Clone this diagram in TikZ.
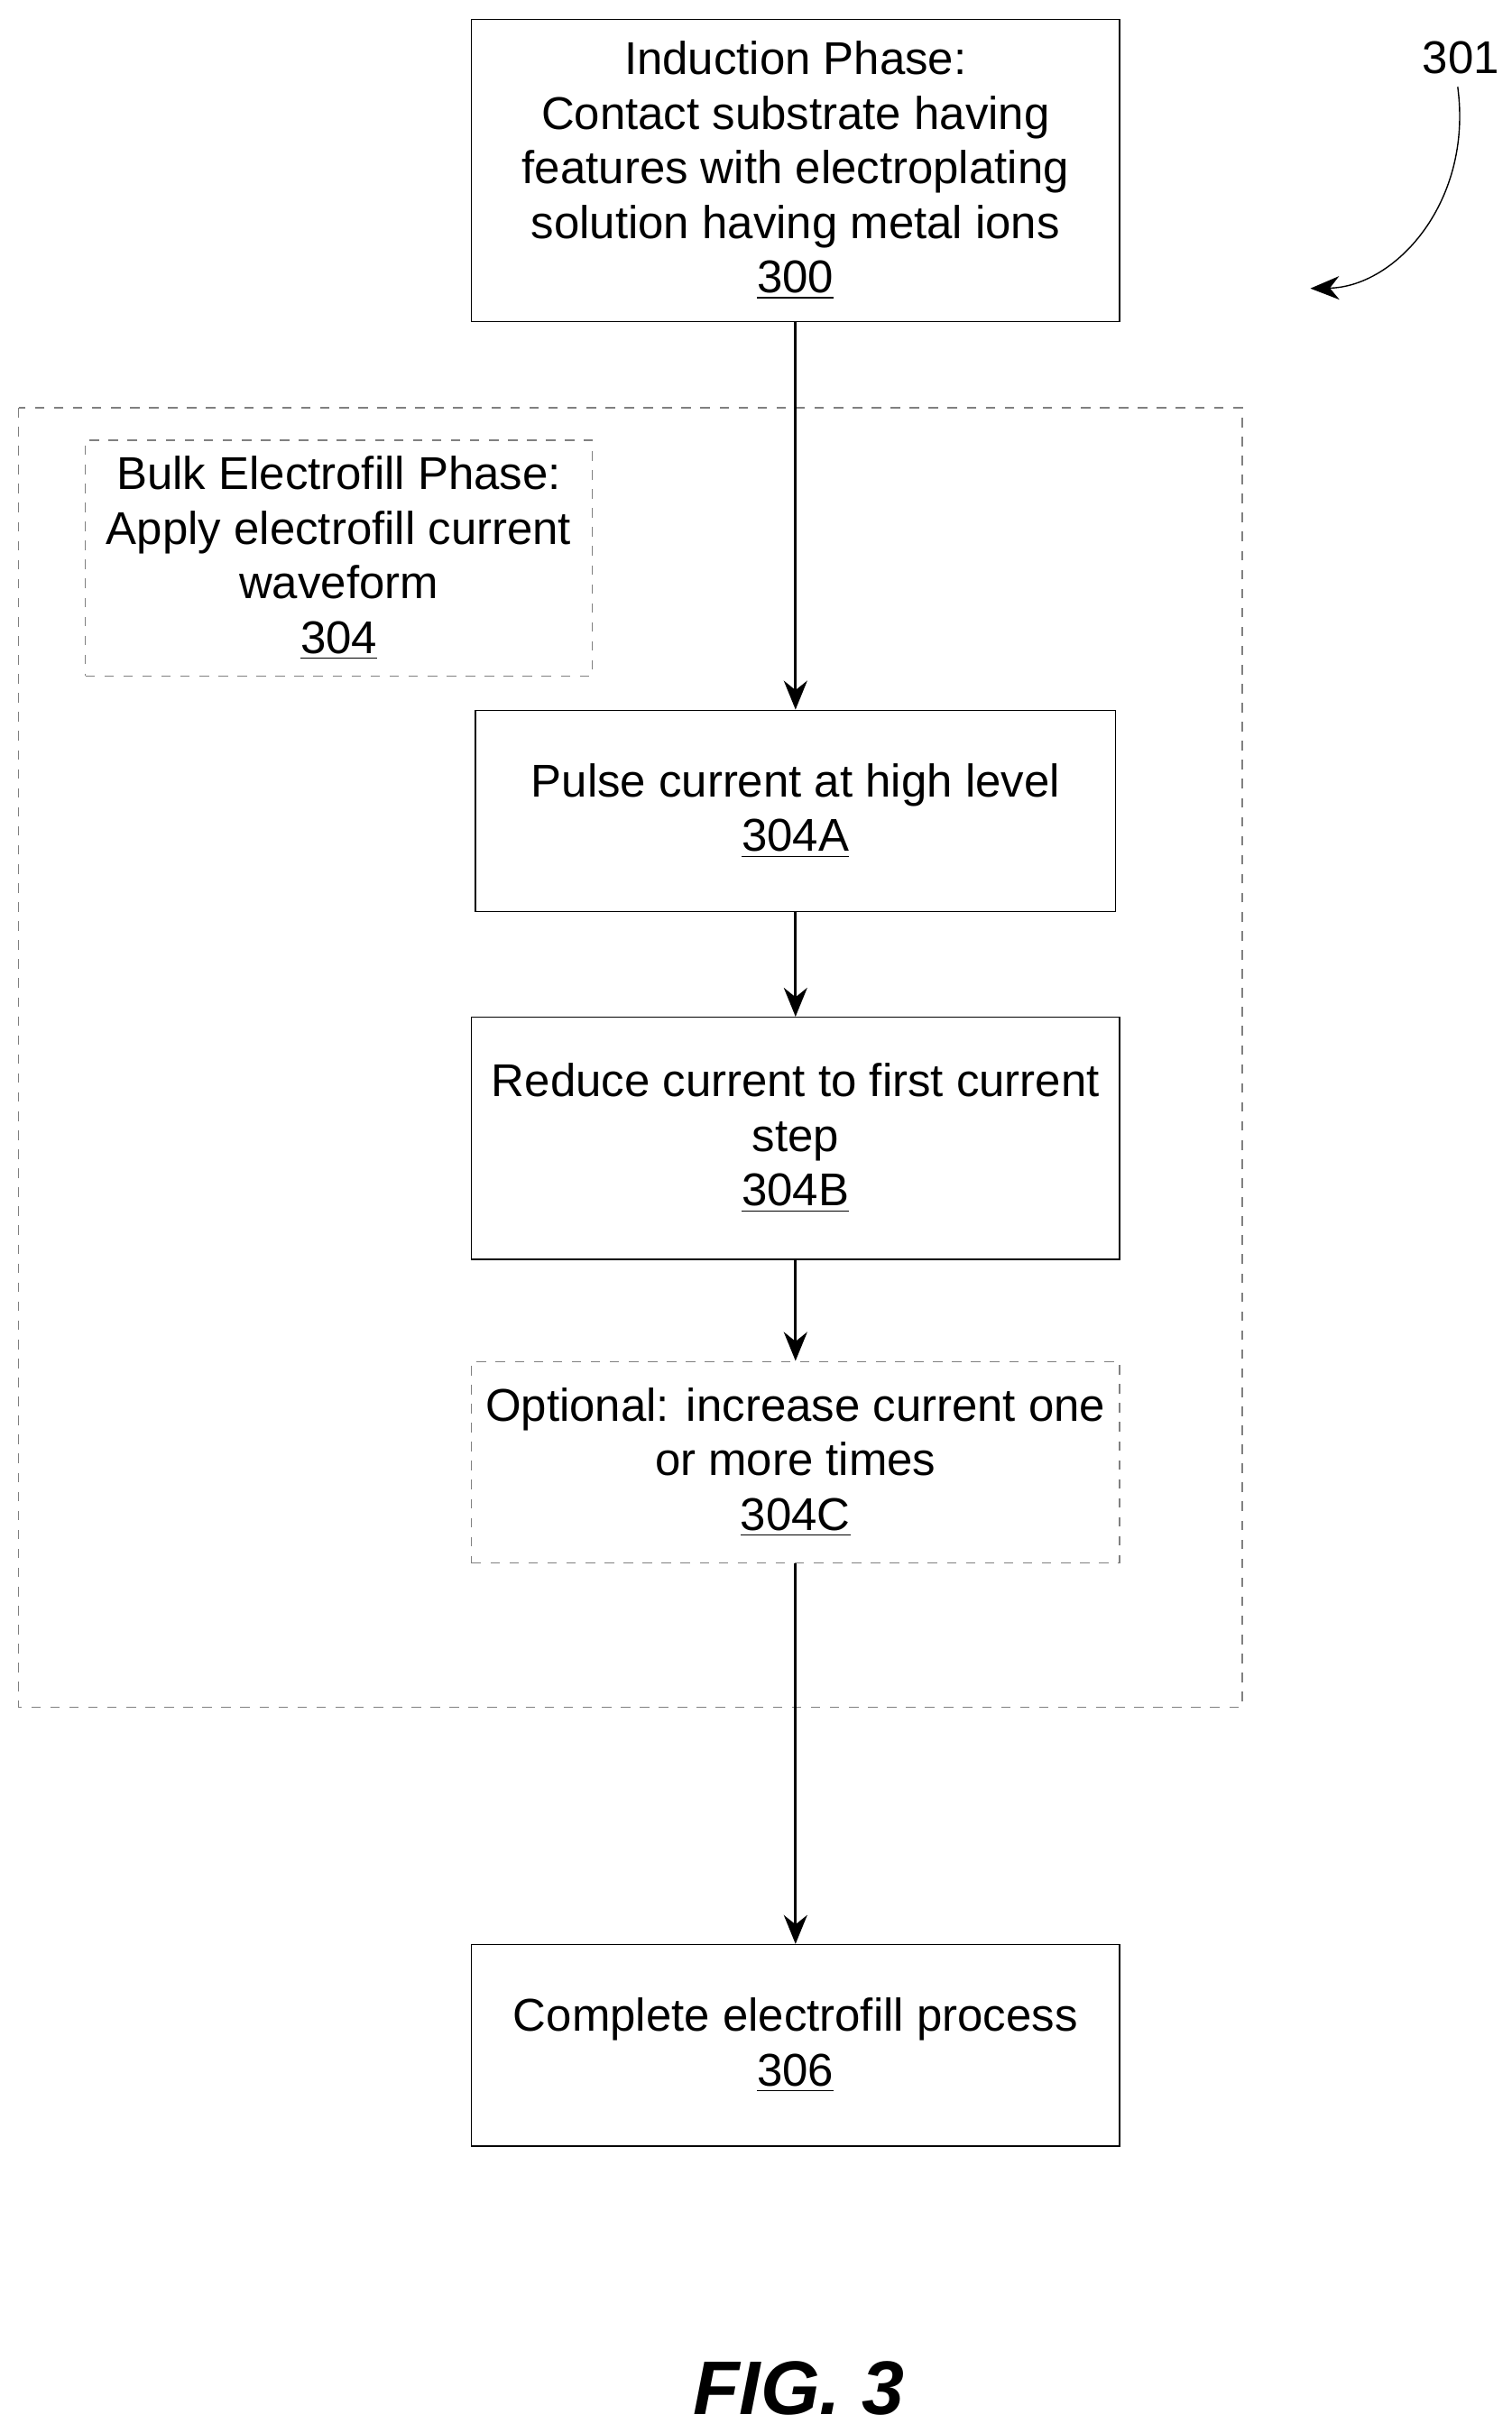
\documentclass[tikz,border=0pt]{standalone}
\usepackage{fontspec}
\setmainfont{Liberation Sans}
\usetikzlibrary{arrows.meta}

\tikzstyle{stage} = [draw, rectangle, align=center, inner sep=0pt, font=\fontsize{14.5}{17.2}\selectfont]
\tikzstyle{opt}  = [stage, dashed, draw=gray]
\tikzstyle{flow} = [-{Stealth[length=3.2mm,width=2.6mm]}, thick]

\begin{document}
\begin{tikzpicture}[x=0.01719cm,y=-0.01719cm]
  \useasboundingbox (0,0) rectangle (975,1569);
  \draw[dashed, gray] (12,263) rectangle (801,1101);
  \node at (513,110) (s300) [stage, minimum width=418*0.01719cm, minimum height=195*0.01719cm]
    {Induction Phase:\\Contact substrate having\\features with electroplating\\solution having metal ions\\\underline{300}};
  \node at (218.5,360) (s304) [opt, minimum width=327*0.01719cm, minimum height=152*0.01719cm]
    {Bulk Electrofill Phase:\\Apply electrofill current\\waveform\\\underline{304}};
  \node at (513,523) (s304a) [stage, minimum width=413*0.01719cm, minimum height=130*0.01719cm]
    {Pulse current at high level\\\underline{304A}};
  \node at (513,734) (s304b) [stage, minimum width=418*0.01719cm, minimum height=156*0.01719cm]
    {Reduce current to first current\\step\\\underline{304B}};
  \node at (513,943) (s304c) [opt, minimum width=418*0.01719cm, minimum height=130*0.01719cm]
    {Optional: increase current one\\or more times\\\underline{304C}};
  \node at (513,1319) (s306) [stage, minimum width=418*0.01719cm, minimum height=130*0.01719cm]
    {Complete electrofill process\\\underline{306}};
  \path[flow] (s300) edge (s304a)
              (s304a) edge (s304b)
              (s304b) edge (s304c)
              (s304c) edge (s306);
  \node at (942,37) (lbl) {\fontsize{14.5}{17}\selectfont 301};
  \coordinate (tip) at (845,186);
  \draw[-{Stealth[length=3.2mm,width=2.6mm]}] (940,56) .. controls (950,130) and (900,185) .. (tip);
  \node at (515,1540) (fig) {\fontsize{24}{28}\selectfont\bfseries\itshape FIG. 3};
\end{tikzpicture}
\end{document}
